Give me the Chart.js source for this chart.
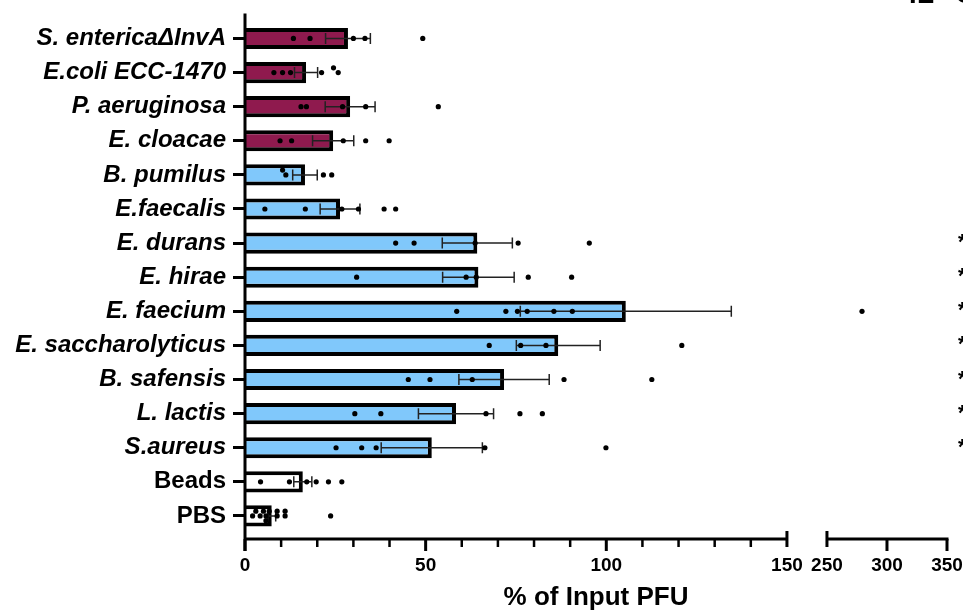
<!DOCTYPE html>
<html>
<head>
<meta charset="utf-8">
<script src="https://cdn.jsdelivr.net/npm/chart.js@4/dist/chart.umd.min.js"></script>
<style>
  body { margin: 0; background: #fff; }
  #wrap { width: 963px; height: 613px; position: relative; }
</style>
</head>
<body>
<div id="wrap"><canvas id="pfuChart"></canvas></div>
<script>
// data (% of input PFU, mean +/- SEM and replicates)
const strains = ['S. entericaΔInvA', 'E.coli ECC-1470', 'P. aeruginosa', 'E. cloacae', 'B. pumilus',
  'E.faecalis', 'E. durans', 'E. hirae', 'E. faecium', 'E. saccharolyticus', 'B. safensis',
  'L. lactis', 'S.aureus', 'Beads', 'PBS'];
const groups = ['neg', 'neg', 'neg', 'neg', 'pos', 'pos', 'pos', 'pos', 'pos', 'pos', 'pos', 'pos', 'pos', 'ctrl', 'ctrl'];
const meanPfu = [28.5, 16.9, 29.1, 24.4, 16.6, 26.3, 64.3, 64.6, 105.4, 86.7, 71.7, 58.4, 51.7, 16.0, 7.4];
const semPfu = [6.2, 3.2, 6.9, 5.7, 3.4, 5.5, 9.7, 9.9, 29.2, 11.6, 12.5, 10.4, 14.0, 2.5, 1.1];
const replicates = [
  [13.4, 18.0, 30.0, 33.2, 49.2],
  [8.0, 10.4, 12.6, 21.2, 25.8, 24.5],
  [15.5, 17.0, 27.0, 33.4, 53.5],
  [9.7, 12.9, 27.2, 33.4, 39.9],
  [11.3, 10.4, 21.7, 24.0],
  [5.5, 16.7, 26.8, 31.4, 38.5, 41.7],
  [41.7, 46.8, 63.7, 75.6, 95.3],
  [30.9, 61.2, 64.0, 78.4, 90.4],
  [58.6, 72.2, 75.4, 78.1, 85.5, 90.6, 279.2],
  [67.6, 76.3, 83.3, 120.9],
  [45.2, 51.2, 62.9, 88.3, 112.6],
  [30.4, 37.6, 66.7, 76.1, 82.3],
  [25.2, 32.3, 36.3, 66.4, 99.9],
  [4.3, 12.3, 17.1, 19.7, 23.1, 26.8],
  [2.1, 3.0, 4.2, 5.1, 5.8, 5.8, 6.7, 8.9, 8.9, 11.1, 11.1, 23.7]
];
const xTickLabels = [0, 50, 100, 150, 250, 300, 350];
const starred = ['E. durans', 'E. hirae', 'E. faecium', 'E. saccharolyticus', 'B. safensis', 'L. lactis', 'S.aureus'];
const controls = ['Beads', 'PBS'];

const groupColors = { neg: '#8f1a4e', pos: '#80c8fb', ctrl: '#ffffff' };
const FONT = "'Liberation Sans', Arial, Helvetica, sans-serif";

// x axis with a break between 150 and 250
const BREAK_LO = 150, BREAK_HI = 250, X_MAX = 350;
const SEG1 = 0.772, GAP = 0.057; // share of the axis length

class BrokenScale extends Chart.LinearScale {
  static id = 'broken';
  static defaults = Chart.LinearScale.defaults;

  buildTicks() {
    const ticks = [];
    for (let v = 0; v <= BREAK_LO; v += 10) ticks.push({ value: v });
    xTickLabels.filter(v => v > BREAK_LO).forEach(v => ticks.push({ value: v }));
    return ticks;
  }
  toDecimal(v) {
    if (v <= BREAK_LO) return v / BREAK_LO * SEG1;
    if (v >= BREAK_HI) return SEG1 + GAP + (v - BREAK_HI) / (X_MAX - BREAK_HI) * (1 - SEG1 - GAP);
    return SEG1 + (v - BREAK_LO) / (BREAK_HI - BREAK_LO) * GAP;
  }
  getPixelForValue(v) {
    return v === null ? NaN : this.getPixelForDecimal(this.toDecimal(v));
  }
  getValueForPixel(p) {
    const d = this.getDecimalForPixel(p);
    if (d <= SEG1) return d / SEG1 * BREAK_LO;
    if (d >= SEG1 + GAP) return BREAK_HI + (d - SEG1 - GAP) / (1 - SEG1 - GAP) * (X_MAX - BREAK_HI);
    return BREAK_LO + (d - SEG1) / GAP * (BREAK_HI - BREAK_LO);
  }
}
Chart.register(BrokenScale);

// spread replicates that would overlap vertically within their row
function swarm(values) {
  const placed = [];
  const slots = [0, -0.14, 0.14, -0.28, 0.28];
  return values.map(v => {
    const off = slots.find(s => !placed.some(p => p.off === s && Math.abs(p.v - v) < 1.4)) ?? 0;
    placed.push({ v, off });
    return off;
  });
}
const dots = [];
replicates.forEach((vals, i) => {
  const offs = swarm(vals);
  vals.forEach((v, k) => dots.push({ x: v, y: i + offs[k] }));
});

const errorBars = {
  id: 'errorBars',
  afterDatasetDraw(chart, args) {
    if (args.index !== 0) return;
    const { ctx } = chart;
    const x = chart.scales.x;
    ctx.save();
    ctx.strokeStyle = '#222';
    ctx.lineWidth = 1.5;
    args.meta.data.forEach((bar, i) => {
      const lo = x.getPixelForValue(meanPfu[i] - semPfu[i]);
      const hi = x.getPixelForValue(meanPfu[i] + semPfu[i]);
      ctx.beginPath();
      ctx.moveTo(lo, bar.y); ctx.lineTo(hi, bar.y);
      ctx.moveTo(lo, bar.y - 5.5); ctx.lineTo(lo, bar.y + 5.5);
      ctx.moveTo(hi, bar.y - 5.5); ctx.lineTo(hi, bar.y + 5.5);
      ctx.stroke();
    });
    ctx.restore();
  }
};

const axesAndNotes = {
  id: 'axesAndNotes',
  afterDraw(chart) {
    const { ctx } = chart;
    const x = chart.scales.x;
    const axisY = x.top + 6;
    const x0 = x.getPixelForValue(0);
    ctx.save();
    ctx.strokeStyle = '#000';
    ctx.lineCap = 'butt';
    ctx.lineWidth = 3;
    ctx.beginPath();
    ctx.moveTo(x0, chart.chartArea.top - 8); ctx.lineTo(x0, axisY + 12);
    ctx.moveTo(x0 - 1.5, axisY); ctx.lineTo(x.getPixelForValue(BREAK_LO), axisY);
    ctx.moveTo(x.getPixelForValue(BREAK_HI), axisY); ctx.lineTo(x.getPixelForValue(X_MAX) + 1.5, axisY);
    ctx.stroke();
    x.ticks.forEach(t => {
      const px = x.getPixelForValue(t.value);
      ctx.beginPath();
      if (t.value === BREAK_LO || t.value === BREAK_HI) {
        ctx.lineWidth = 3;
        ctx.moveTo(px, axisY - 8); ctx.lineTo(px, axisY + 8);
      } else if (xTickLabels.includes(t.value)) {
        ctx.lineWidth = 3;
        ctx.moveTo(px, axisY); ctx.lineTo(px, axisY + 12);
      } else {
        ctx.lineWidth = 2.5;
        ctx.moveTo(px, axisY); ctx.lineTo(px, axisY + 8);
      }
      ctx.stroke();
    });

    // significance marks and panel title, both cut off by the figure edge
    const meta = chart.getDatasetMeta(0);
    ctx.fillStyle = '#000';
    ctx.font = 'bold 22px ' + FONT;
    ctx.textBaseline = 'middle';
    ctx.textAlign = 'left';
    starred.forEach(s => {
      const bar = meta.data[strains.indexOf(s)];
      ctx.fillText('****', 958, bar.y);
    });
    ctx.font = 'bold 30px ' + FONT;
    ctx.textBaseline = 'alphabetic';
    ctx.fillText('42 °C', 901, 3);
    ctx.restore();
  }
};

Chart.defaults.color = '#000';
Chart.defaults.font.family = FONT;

new Chart(document.getElementById('pfuChart'), {
  type: 'bar',
  data: {
    labels: strains,
    datasets: [{
      type: 'bar',
      data: meanPfu,
      backgroundColor: groups.map(g => groupColors[g]),
      borderColor: '#000',
      borderWidth: 4,
      borderSkipped: 'start',
      grouped: false,
      barPercentage: 0.62,
      categoryPercentage: 1,
      xAxisID: 'x',
      yAxisID: 'y',
      order: 2
    }, {
      type: 'scatter',
      data: dots,
      pointRadius: 2.6,
      pointBackgroundColor: '#000',
      pointBorderWidth: 0,
      showLine: false,
      xAxisID: 'x',
      yAxisID: 'yp',
      order: 1
    }]
  },
  options: {
    indexAxis: 'y',
    responsive: true,
    maintainAspectRatio: false,
    animation: false,
    layout: { padding: { top: 21, right: 16, left: 0, bottom: 0 } },
    plugins: { legend: { display: false }, tooltip: { enabled: false } },
    scales: {
      x: {
        type: 'broken',
        axis: 'x',
        position: 'bottom',
        min: 0,
        max: X_MAX,
        grid: { display: false, drawTicks: false },
        border: { display: false },
        ticks: {
          autoSkip: false,
          maxRotation: 0,
          minRotation: 0,
          padding: 21,
          font: { size: 19, weight: 'bold' },
          callback: (v) => xTickLabels.includes(v) ? String(v) : ''
        },
        title: {
          display: true,
          text: '% of Input PFU',
          font: { size: 26, weight: 'bold' },
          padding: { top: 0, bottom: 0 }
        },
        afterFit: (scale) => {
          scale.height = 80;
          scale.paddingLeft = 0;
          scale.paddingRight = 0;
        }
      },
      y: {
        type: 'category',
        axis: 'y',
        position: 'left',
        grid: { display: true, drawOnChartArea: false, offset: false, tickLength: 12, tickWidth: 3, tickColor: '#000' },
        border: { display: false },
        ticks: {
          padding: 7,
          font: (c) => ({
            size: 24,
            weight: 'bold',
            style: controls.includes(strains[c.index]) ? 'normal' : 'italic'
          })
        },
        afterFit: (scale) => { scale.width = 245; }
      },
      yp: {
        type: 'linear',
        axis: 'y',
        display: false,
        offset: false,
        grace: 0,
        reverse: true,
        min: -0.5,
        max: strains.length - 0.5
      }
    }
  },
  plugins: [errorBars, axesAndNotes]
});
</script>
</body>
</html>
